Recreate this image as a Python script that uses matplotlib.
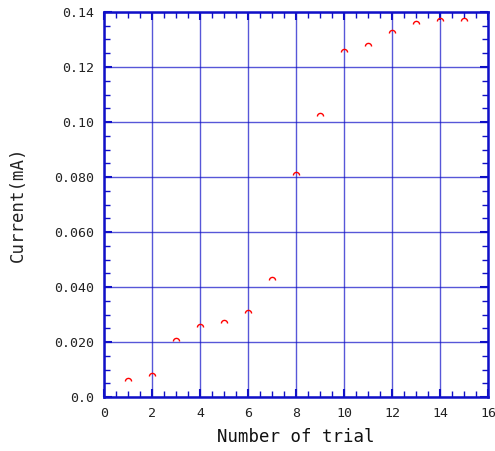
import matplotlib
matplotlib.use("Agg")
import matplotlib.pyplot as plt
from matplotlib.path import Path
from matplotlib.ticker import MultipleLocator, FixedLocator
import numpy as np

trial = [1, 2, 3, 4, 5, 6, 7, 8, 9, 10, 11, 12, 13, 14, 15]
current = [0.0058, 0.0076, 0.0204, 0.0255, 0.0269, 0.0305, 0.0425, 0.0807,
           0.1022, 0.1255, 0.1278, 0.1322, 0.1357, 0.1368, 0.1368]
yticks = [0.0, 0.02, 0.04, 0.06, 0.08, 0.10, 0.12, 0.14]
ytick_labels = ["0.0", "0.020", "0.040", "0.060", "0.080", "0.10", "0.12", "0.14"]
xticks = [0, 2, 4, 6, 8, 10, 12, 14, 16]

plt.rcParams['font.family'] = ['DejaVu Sans Mono']

fig = plt.figure(figsize=(4.95, 4.51), dpi=100)
ax = fig.add_axes([0.210, 0.1197, 0.776, 0.8537])

blue = '#1010c8'
# arc marker
t = np.linspace(np.pi, 0, 9)
verts = list(zip(np.cos(t), np.sin(t)))
arc = Path(verts, [Path.MOVETO] + [Path.LINETO] * 8)

ax.plot(trial, current, linestyle='none', marker=arc, markersize=4.5,
        markerfacecolor='none', markeredgecolor='red', markeredgewidth=1.0, zorder=5)

ax.set_xlim(0, 16)
ax.set_ylim(0, 0.14)
ax.xaxis.set_major_locator(FixedLocator(xticks))
ax.xaxis.set_minor_locator(MultipleLocator(0.5))
ax.yaxis.set_major_locator(FixedLocator(yticks))
ax.yaxis.set_minor_locator(MultipleLocator(0.005))
ax.set_yticklabels(ytick_labels)
ax.set_xticklabels([str(v) for v in xticks])

ax.grid(True, which='major', color=blue, linewidth=1.0, alpha=0.7)
ax.set_axisbelow(True)
for s in ax.spines.values():
    s.set_color(blue)
    s.set_linewidth(1.8)

ax.tick_params(which='both', direction='in', top=True, right=True, color=blue)
ax.tick_params(which='major', length=6, width=1.5, labelsize=9.5, pad=7,
               labelcolor='#222222')
ax.tick_params(which='minor', length=4, width=1.0)

ax.set_xlabel('Number of trial', fontsize=12.5, labelpad=6, color='#111111')
ax.set_ylabel('Current(mA)', fontsize=12.5, labelpad=20, color='#222222')

fig.savefig('out.png', dpi=100)
